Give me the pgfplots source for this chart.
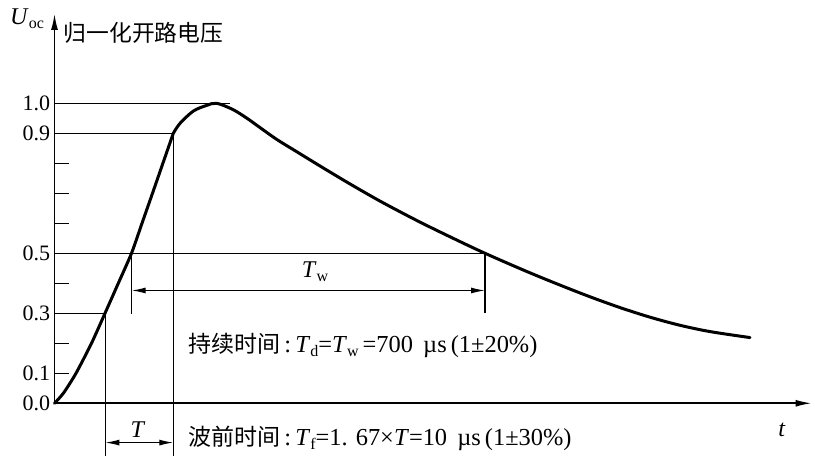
\documentclass[border=0pt]{standalone}
\usepackage{fontspec}
\setmainfont{Liberation Serif}
\newfontfamily\cjk{Noto Sans CJK SC}
\usepackage{pgfplots}
\pgfplotsset{compat=1.18}
\usetikzlibrary{arrows.meta}
\newcommand\sub[1]{\raisebox{-0.4ex}{\fontsize{8}{9}\selectfont #1}}
\begin{document}
\begin{tikzpicture}
\begin{axis}[
  x=0.5pt, y=150pt,
  xmin=0, xmax=757, ymin=0, ymax=1.298,
  axis lines=left,
  axis line style={line width=0.8pt},
  x axis line style={-{Latex[length=8pt,width=3.5pt]}},
  y axis line style={-{Latex[length=8pt,width=3.5pt]}},
  xtick=\empty,
  ytick={0,0.1,0.2,0.3,0.4,0.5,0.6,0.7,0.8,0.9,1.0},
  yticklabels={0.0,0.1,,0.3,,0.5,,,,0.9,1.0},
  tick align=inside, major tick length=7.5pt,
  tick style={line width=0.6pt, black},
  yticklabel style={font=\fontsize{11}{12}\selectfont, inner sep=2pt},
  clip=false,
]
% rising front
\addplot[black, line width=1.5pt, smooth, tension=0.4, line cap=round] coordinates {
(0,0) (9,0.034) (21.5,0.1) (37,0.2) (50.5,0.3) (63.8,0.4) (77,0.5)
(87.5,0.6) (98,0.7) (108.4,0.8) (118.8,0.9)
};
% crest and tail
\addplot[black, line width=1.5pt, smooth, tension=0.5, line cap=round] coordinates {
(118.8,0.9) (125.5,0.933) (138.8,0.974) (152.2,0.993) (162.2,1.0)
(178.5,0.979) (192.5,0.95) (205.5,0.919) (222.5,0.879) (242.5,0.838)
(265.5,0.791) (292.5,0.737) (325.5,0.674) (362.5,0.609) (395.5,0.555)
(430.5,0.5) (472.5,0.439) (505.5,0.394) (535.5,0.355) (565.5,0.319)
(595.5,0.287) (625.5,0.26) (655.5,0.239) (695.5,0.219)
};
% guide lines
\draw[line width=0.6pt] (axis cs:0,1) -- (axis cs:175.5,1);
\draw[line width=0.6pt] (axis cs:0,0.9) -- (axis cs:118.8,0.9);
\draw[line width=0.6pt] (axis cs:0,0.5) -- (axis cs:430.5,0.5);
\draw[line width=0.6pt] (axis cs:0,0.3) -- (axis cs:50.8,0.3);
\draw[line width=0.6pt] (axis cs:50.8,0.3) -- (axis cs:50.8,-0.176);
\draw[line width=0.6pt] (axis cs:118.8,0.9) -- (axis cs:118.8,-0.176);
\draw[line width=0.6pt] (axis cs:77.2,0.5) -- (axis cs:77.2,0.298);
\draw[line width=0.6pt] (axis cs:430.5,0.5) -- (axis cs:430.5,0.3);
\draw[line width=0.6pt, {Latex[length=7pt,width=3pt]}-{Latex[length=7pt,width=3pt]}] (axis cs:77.2,0.376) -- (axis cs:430.5,0.376);
\draw[line width=0.6pt, {Latex[length=7pt,width=3pt]}-{Latex[length=7pt,width=3pt]}] (axis cs:50.8,-0.131) -- (axis cs:118.8,-0.131);
% labels
\node[font=\fontsize{12}{13}\selectfont] at (axis cs:260.5,0.438) {\textit{T}\sub{w}};
\node[font=\fontsize{12}{13}\selectfont] at (axis cs:83.5,-0.089) {\textit{T}};
\node[font=\fontsize{12}{13}\selectfont] at (axis cs:727.5,-0.089) {\textit{t}};
\node[font=\fontsize{12}{13}\selectfont] at (axis cs:-27.5,1.282) {\textit{U}\sub{oc}};
\node[font=\fontsize{11.4}{13}\selectfont\cjk] at (axis cs:89,1.236) {归一化开路电压};
\node[anchor=west, inner sep=0pt, font=\fontsize{12.2}{13}\selectfont] at (axis cs:133.5,0.194)
  {{\fontsize{11.5}{13}\selectfont\cjk 持续时间}\,:\,\textit{T}\sub{d}=\textit{T}\sub{w}\,=700 \,µs\,(1±20\%)};
\node[anchor=west, inner sep=0pt, font=\fontsize{12.2}{13}\selectfont] at (axis cs:133.5,-0.116)
  {{\fontsize{11.5}{13}\selectfont\cjk 波前时间}\,:\,\textit{T}\sub{f}=1.\,\,67×\textit{T}=10 \,µs\,(1±30\%)};
\path (axis cs:-54.5,1.3443) rectangle (axis cs:760.5,-0.1757);
\end{axis}
\end{tikzpicture}
\end{document}
